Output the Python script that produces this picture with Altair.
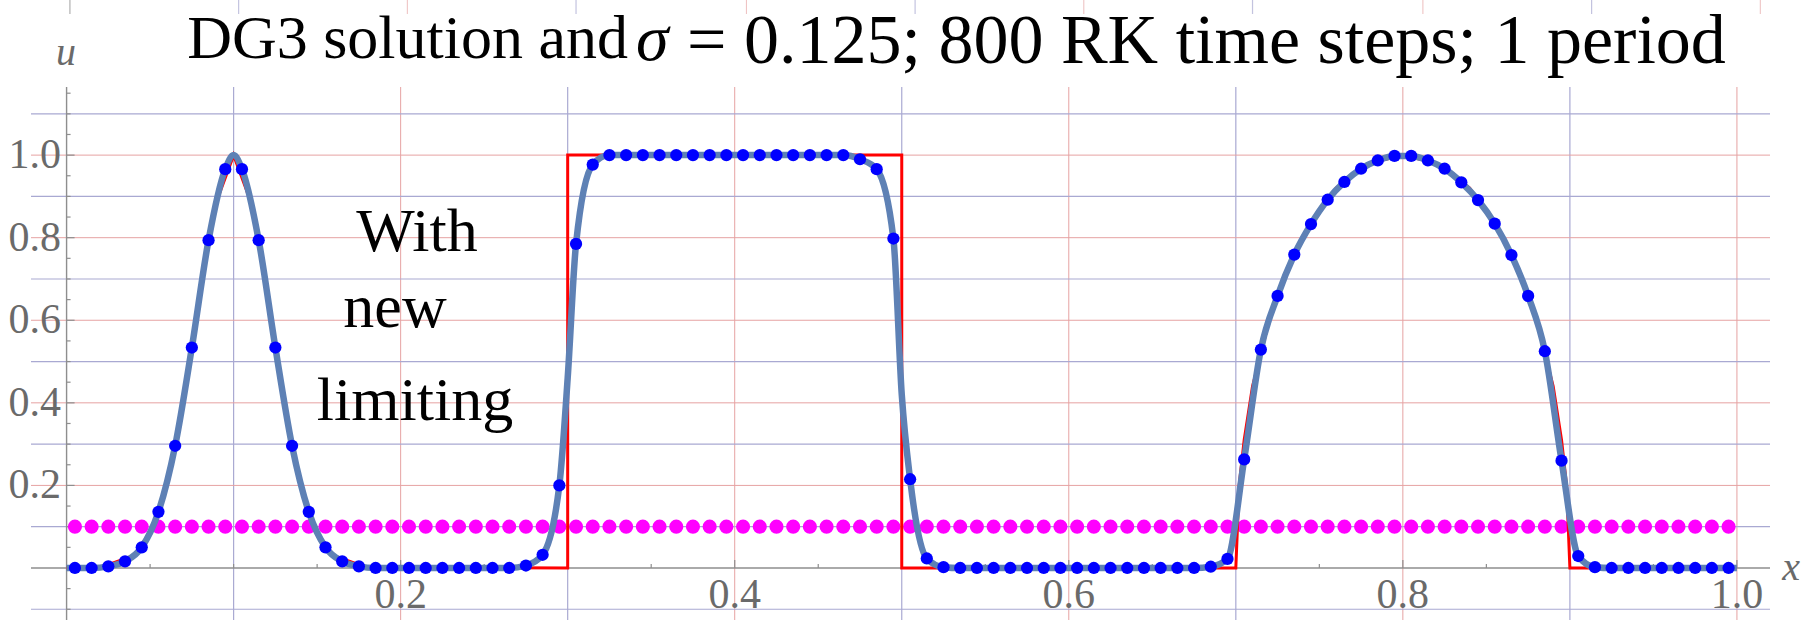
import altair as alt
import pandas as pd

# ---- data -------------------------------------------------------------
# cell centres of the 100-cell mesh
cell_x = [0.005, 0.015, 0.025, 0.035, 0.045, 0.055, 0.065, 0.075, 0.085, 0.095,
          0.105, 0.115, 0.125, 0.135, 0.145, 0.155, 0.165, 0.175, 0.185, 0.195,
          0.205, 0.215, 0.225, 0.235, 0.245, 0.255, 0.265, 0.275, 0.285, 0.295,
          0.305, 0.315, 0.325, 0.335, 0.345, 0.355, 0.365, 0.375, 0.385, 0.395,
          0.405, 0.415, 0.425, 0.435, 0.445, 0.455, 0.465, 0.475, 0.485, 0.495,
          0.505, 0.515, 0.525, 0.535, 0.545, 0.555, 0.565, 0.575, 0.585, 0.595,
          0.605, 0.615, 0.625, 0.635, 0.645, 0.655, 0.665, 0.675, 0.685, 0.695,
          0.705, 0.715, 0.725, 0.735, 0.745, 0.755, 0.765, 0.775, 0.785, 0.795,
          0.805, 0.815, 0.825, 0.835, 0.845, 0.855, 0.865, 0.875, 0.885, 0.895,
          0.905, 0.915, 0.925, 0.935, 0.945, 0.955, 0.965, 0.975, 0.985, 0.995]

# DG3 cell values after one period
dg3_u = [0.0, 0.0, 0.004, 0.016, 0.05, 0.136, 0.296, 0.534, 0.794, 0.966,
         0.966, 0.794, 0.534, 0.296, 0.136, 0.05, 0.016, 0.004, 0.0, 0.0,
         0.0, 0.0, 0.0, 0.0, 0.0, 0.0, 0.0, 0.006, 0.032, 0.2,
         0.785, 0.977, 1.0, 1.0, 1.0, 1.0, 1.0, 1.0, 1.0, 1.0,
         1.0, 1.0, 1.0, 1.0, 1.0, 1.0, 1.0, 0.99, 0.966, 0.798,
         0.215, 0.023, 0.002, 0.0, 0.0, 0.0, 0.0, 0.0, 0.0, 0.0,
         0.0, 0.0, 0.0, 0.0, 0.0, 0.0, 0.0, 0.0, 0.003, 0.022,
         0.263, 0.529, 0.659, 0.759, 0.833, 0.892, 0.935, 0.967, 0.987, 0.998,
         0.998, 0.987, 0.967, 0.934, 0.891, 0.834, 0.758, 0.659, 0.525, 0.26,
         0.029, 0.002, 0.0, 0.0, 0.0, 0.0, 0.0, 0.0, 0.0, 0.0]

# limiter flag level drawn in every cell
flag_u = [0.1] * 100

# extra samples of the continuous DG3 polynomial between cell centres
poly_extra_x = [0.0, 0.1, 0.3, 0.5, 1.0]
poly_extra_u = [0.0, 1.0, 0.46, 0.42, 0.0]

# exact solution (Gaussian, square wave, ellipse)
exact_x = [0.0, 0.02, 0.04, 0.05, 0.06, 0.07, 0.08, 0.09, 0.1, 0.11, 0.12, 0.13,
           0.14, 0.15, 0.16, 0.18, 0.3, 0.3, 0.5, 0.5, 0.7, 0.702, 0.705, 0.71,
           0.72, 0.73, 0.74, 0.76, 0.78, 0.8, 0.82, 0.84, 0.86, 0.87, 0.88, 0.89,
           0.895, 0.898, 0.9, 1.0]
exact_u = [0.0, 0.001, 0.03, 0.085, 0.2, 0.41, 0.67, 0.89, 1.0, 0.89, 0.67, 0.41,
           0.2, 0.085, 0.03, 0.001, 0.0, 1.0, 1.0, 0.0, 0.0, 0.2, 0.31, 0.44,
           0.6, 0.71, 0.8, 0.92, 0.98, 1.0, 0.98, 0.92, 0.8, 0.71, 0.6, 0.44,
           0.31, 0.2, 0.0, 0.0]

# grid lines and ticks
grid_red_x = [0.2, 0.4, 0.6, 0.8, 1.0]
grid_blue_x = [0.1, 0.3, 0.5, 0.7, 0.9]
grid_red_y = [0.2, 0.4, 0.6, 0.8, 1.0]
grid_blue_y = [-0.1, 0.1, 0.3, 0.5, 0.7, 0.9, 1.1]

x_major_ticks = [0.2, 0.4, 0.6, 0.8, 1.0]
x_minor_ticks = [0.05, 0.1, 0.15, 0.25, 0.3, 0.35, 0.45, 0.5, 0.55, 0.65, 0.7,
                 0.75, 0.85, 0.9, 0.95]
y_major_ticks = [0.2, 0.4, 0.6, 0.8, 1.0]
y_minor_ticks = [-0.1, -0.05, 0.05, 0.1, 0.15, 0.25, 0.3, 0.35, 0.45, 0.5, 0.55,
                 0.65, 0.7, 0.75, 0.85, 0.9, 0.95, 1.05, 1.1, 1.15]

x_tick_labels = ["0.2", "0.4", "0.6", "0.8", "1.0"]
y_tick_labels = ["0.2", "0.4", "0.6", "0.8", "1.0"]

# bottom ends of the grid of the panel above, peeking in at the top edge
stub_axis_x = [0.002]
stub_blue_x = [0.103, 0.305, 0.508, 0.710, 0.913]
stub_red_x = [0.204, 0.407, 0.609, 0.812, 1.014]

# ---- layout -------------------------------------------------------------
W, H = 1739, 533
X_DOMAIN = [-0.0213, 1.0198]
Y_DOMAIN = [-0.126, 1.165]
SERIF = "'Liberation Serif', 'Times New Roman', Times, serif"
GREY = "#6a6a6a"
AXIS = "#8e8e8e"
RED_GRID = "#e6a2a2"
BLUE_GRID = "#a9a9d2"

xs = alt.Scale(domain=X_DOMAIN, nice=False, zero=False)
ys = alt.Scale(domain=Y_DOMAIN, nice=False, zero=False)


def X(field):
    return alt.X(field, type="quantitative", scale=xs, axis=None)


def Y(field):
    return alt.Y(field, type="quantitative", scale=ys, axis=None)


def vgrid(values, color, width, top=0, bottom=H, opacity=1.0):
    return alt.Chart(pd.DataFrame({"x": values})).mark_rule(
        color=color, strokeWidth=width, opacity=opacity).encode(
        x=X("x"), y=alt.value(top), y2=alt.value(bottom))


def hgrid(values, color, width):
    return alt.Chart(pd.DataFrame({"y": values})).mark_rule(
        color=color, strokeWidth=width).encode(
        y=Y("y"), x=alt.value(0), x2=alt.value(W))


def xticks(values, length):
    return alt.Chart(pd.DataFrame({"x": values})).mark_rule(
        color=AXIS, strokeWidth=1.2, y2Offset=-length).encode(
        x=X("x"), y=alt.Y(datum=0, type="quantitative", scale=ys, axis=None),
        y2=alt.Y2(datum=0))


def yticks(values, length):
    return alt.Chart(pd.DataFrame({"y": values})).mark_rule(
        color=AXIS, strokeWidth=1.2, x2Offset=length).encode(
        y=Y("y"), x=alt.X(datum=0, type="quantitative", scale=xs, axis=None),
        x2=alt.X2(datum=0))


def label(text, px, py, size, color="black", align="left", style="normal"):
    return alt.Chart(pd.DataFrame({"t": [text]})).mark_text(
        font=SERIF, fontSize=size, color=color, align=align,
        baseline="alphabetic", fontStyle=style).encode(
        text="t:N", x=alt.value(px), y=alt.value(py))


layers = [
    vgrid(grid_red_x, RED_GRID, 1),
    vgrid(grid_blue_x, BLUE_GRID, 1.2),
    hgrid(grid_red_y, RED_GRID, 1),
    hgrid(grid_blue_y, BLUE_GRID, 1.2),
    vgrid(stub_axis_x, AXIS, 1.2, -87, -73, 0.7),
    vgrid(stub_blue_x, BLUE_GRID, 1.2, -87, -73, 0.7),
    vgrid(stub_red_x, RED_GRID, 1, -87, -73, 0.7),
]

# axes through the origin
layers.append(alt.Chart(pd.DataFrame({"x": [0.0]})).mark_rule(
    color=AXIS, strokeWidth=1.4).encode(x=X("x"), y=alt.value(0), y2=alt.value(H)))
layers.append(alt.Chart(pd.DataFrame({"y": [0.0]})).mark_rule(
    color=AXIS, strokeWidth=1.4).encode(y=Y("y"), x=alt.value(0), x2=alt.value(W)))
layers += [xticks(x_major_ticks, 8), xticks(x_minor_ticks, 4),
           yticks(y_major_ticks, 8), yticks(y_minor_ticks, 4)]

# limiter flags
flags = pd.DataFrame({"x": cell_x, "u": flag_u})
layers.append(alt.Chart(flags).mark_circle(size=200, color="#ff00ff", opacity=1).encode(
    x=X("x"), y=Y("u")))

# exact solution
exact = pd.DataFrame({"x": exact_x, "u": exact_u, "i": list(range(len(exact_x)))})
layers.append(alt.Chart(exact).mark_line(color="#ff0000", strokeWidth=3).encode(
    x=X("x"), y=Y("u"), order="i:Q"))

# continuous DG3 solution
poly = pd.DataFrame({"x": cell_x + poly_extra_x, "u": dg3_u + poly_extra_u}).sort_values("x")
layers.append(alt.Chart(poly).mark_line(
    color="#5e81b5", strokeWidth=6.5, interpolate="monotone").encode(
    x=X("x"), y=Y("u")))

# cell values
cells = pd.DataFrame({"x": cell_x, "u": dg3_u})
layers.append(alt.Chart(cells).mark_circle(size=150, color="#0000ff", opacity=1).encode(
    x=X("x"), y=Y("u")))

# tick labels
layers.append(alt.Chart(pd.DataFrame({"x": x_major_ticks, "t": x_tick_labels})).mark_text(
    font=SERIF, fontSize=42, color=GREY, align="center", baseline="alphabetic").encode(
    x=X("x"), y=alt.value(521), text="t:N"))
layers.append(alt.Chart(pd.DataFrame({"y": y_major_ticks, "t": y_tick_labels})).mark_text(
    font=SERIF, fontSize=42, color=GREY, align="right", baseline="middle").encode(
    y=Y("y"), x=alt.value(30), text="t:N"))

# axis names
layers.append(label("u", 35, -22, 40, GREY, "center", "italic"))
layers.append(label("x", 1760, 493, 40, GREY, "center", "italic"))

# title
layers.append(label("DG3 solution and", 597, -29, 62, align="right"))
layers.append(label("σ", 605, -27, 66, style="italic"))
layers.append(label("= 0.125; 800 RK time steps; 1 period", 656, -24, 70))

# annotation
layers.append(label("With", 386, 164, 62, align="center"))
layers.append(label("new", 364, 240, 62, align="center"))
layers.append(label("limiting", 384, 333, 62, align="center"))

chart = alt.layer(*layers).properties(
    width=W, height=H,
    autosize=alt.AutoSizeParams(type="none"),
    padding={"left": 31, "top": 87, "right": 40, "bottom": 0},
    background="white",
).configure_view(stroke=None)

chart.save("out.html", embed_options={"renderer": "svg", "actions": False})
